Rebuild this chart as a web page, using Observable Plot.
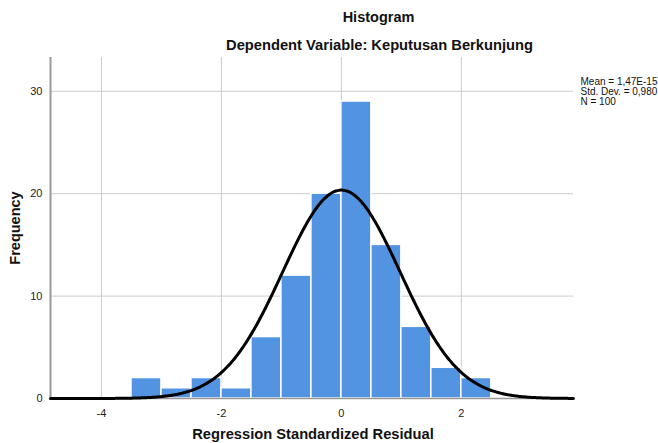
<!DOCTYPE html>
<html>
<head>
<meta charset="utf-8">
<script src="https://cdn.jsdelivr.net/npm/d3@7"></script>
<script src="https://cdn.jsdelivr.net/npm/@observablehq/plot@0.6"></script>
<style>
  html, body { margin: 0; padding: 0; background: #fff; }
  #chart svg { display: block; }
</style>
</head>
<body>
<div id="chart"></div>
<script>
// Bin edges (lower bound) and frequencies
const binStart = [-3.5, -3.0, -2.5, -2.0, -1.5, -1.0, -0.5, 0.0, 0.5, 1.0, 1.5, 2.0];
const binCount = [2, 1, 2, 1, 6, 12, 20, 29, 15, 7, 3, 2];
const binWidth = 0.5;
const xTicks = [-4, -2, 0, 2];
const yTicks = [0, 10, 20, 30];
const stats = ["Mean = 1,47E-15", "Std. Dev. = 0,980", "N = 100"];
const meanVal = 1.47e-15, sdVal = 0.980, nVal = 100;

const bins = binStart.map((s, i) => ({x1: s, x2: s + binWidth, count: binCount[i]}));

// fitted normal curve from the reported mean / std. dev. / N
const xDomain = [-4.85, 3.87];
const curve = d3.range(xDomain[0], xDomain[1] + 0.001, 0.02).map(x => ({
  x,
  y: nVal * binWidth * Math.exp(-0.5 * ((x - meanVal) / sdVal) ** 2) / (sdVal * Math.sqrt(2 * Math.PI))
}));

const font = "'Liberation Sans', Arial, sans-serif";

const chart = Plot.plot({
  width: 658,
  height: 443,
  marginLeft: 50,
  marginRight: 85,
  marginTop: 57,
  marginBottom: 45,
  style: {fontFamily: font, background: "#fff"},
  x: {domain: xDomain, axis: null},
  y: {domain: [0, 33.3], axis: null},
  marks: [
    Plot.ruleX(xTicks, {stroke: "#cccccc", strokeWidth: 1}),
    Plot.ruleY(yTicks.filter(d => d > 0), {stroke: "#cccccc", strokeWidth: 1}),
    Plot.rectY(bins, {x1: "x1", x2: "x2", y: "count", fill: "#5294e2", stroke: "#ffffff", strokeWidth: 1.5, inset: 0}),
    Plot.ruleX([xDomain[0]], {stroke: "#999999", strokeWidth: 2}),
    Plot.ruleY([0], {stroke: "#999999", strokeWidth: 1.5}),
    Plot.line(curve, {x: "x", y: "y", stroke: "#000", strokeWidth: 3, curve: "basis"}),
    Plot.axisX(xTicks, {tickSize: 0, tickPadding: 11, fontSize: 11, fill: "#222", fontFamily: font, label: null, tickFormat: d => String(d)}),
    Plot.axisY(yTicks, {tickSize: 0, tickPadding: 8, fontSize: 11, fill: "#222", fontFamily: font, label: null, tickFormat: d => String(d)}),
    // titles
    Plot.text(["Histogram"], {frameAnchor: "top-left", dx: 328, dy: -40, text: d => d, fontSize: 14.5, fontWeight: "bold", fill: "#111", textAnchor: "middle", lineAnchor: "middle", fontFamily: font}),
    Plot.text(["Dependent Variable: Keputusan Berkunjung"], {frameAnchor: "top-left", dx: 329, dy: -12, text: d => d, fontSize: 14.7, fontWeight: "bold", fill: "#111", textAnchor: "middle", lineAnchor: "middle", fontFamily: font}),
    // axis labels
    Plot.text(["Frequency"], {frameAnchor: "left", dx: -35, text: d => d, rotate: -90, fontSize: 14.5, fontWeight: "bold", fill: "#111", textAnchor: "middle", lineAnchor: "middle", fontFamily: font}),
    Plot.text(["Regression Standardized Residual"], {frameAnchor: "bottom", dx: 1, dy: 36, text: d => d, fontSize: 14.7, fontWeight: "bold", fill: "#111", textAnchor: "middle", lineAnchor: "middle", fontFamily: font}),
    // stats legend
    Plot.text([stats.join("\n")], {frameAnchor: "top-right", dx: 7, dy: 34, text: d => d, fontSize: 10, lineHeight: 1.0, fill: "#111", textAnchor: "start", lineAnchor: "middle", fontFamily: font})
  ]
});
document.getElementById("chart").appendChild(chart);
</script>
</body>
</html>
